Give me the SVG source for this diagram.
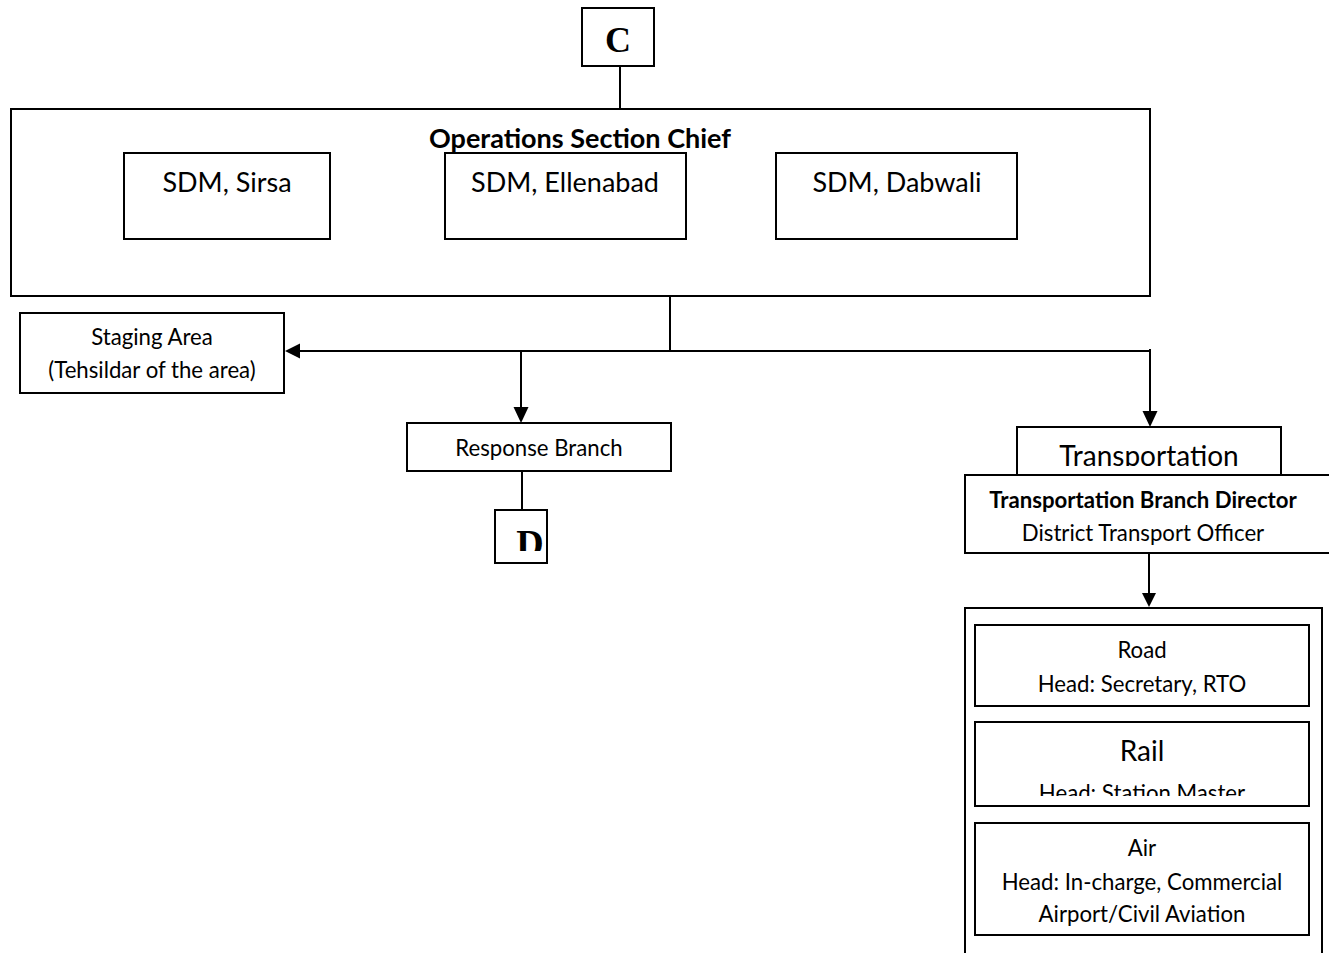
<svg xmlns="http://www.w3.org/2000/svg" width="1329" height="953" viewBox="0 0 1329 953">
  <style>
    .box { fill: #ffffff; stroke: #000000; stroke-width: 2; }
    .line { fill: none; stroke: #000000; stroke-width: 2; }
    .t { font-family: Lato, "Open Sans", "Liberation Sans", sans-serif; fill: #000000; text-anchor: middle; }
    .s19 { font-size: 22.2px; }
    .s24 { font-size: 27px; }
    .s25 { font-size: 28px; }
    .b { font-weight: bold; }
    .serif { font-family: "Liberation Serif", "DejaVu Serif", serif; font-weight: bold; fill: #000; text-anchor: middle; }
  </style>
  <defs>
    <clipPath id="clipD"><rect x="496" y="511" width="50" height="40"/></clipPath>
    <clipPath id="clipTrans"><rect x="1018" y="428" width="262" height="38"/></clipPath>
    <clipPath id="clipRail"><rect x="976" y="723" width="332" height="73"/></clipPath>
  </defs>

  <!-- connectors -->
  <g id="connectors">
    <line class="line" x1="620" y1="66" x2="620" y2="109"/>
    <line class="line" x1="670" y1="296" x2="670" y2="351"/>
    <line class="line" x1="1150" y1="351" x2="300" y2="351"/>
    <path d="M285,351 L300,343.5 L300,358.5 Z" fill="#000"/>
    <line class="line" x1="521" y1="351" x2="521" y2="408"/>
    <path d="M521,423 L513.5,407 L528.5,407 Z" fill="#000"/>
    <line class="line" x1="1150" y1="349" x2="1150" y2="412"/>
    <path d="M1150,427 L1142.5,411 L1157.5,411 Z" fill="#000"/>
    <line class="line" x1="522" y1="471" x2="522" y2="510"/>
    <line class="line" x1="1149" y1="553" x2="1149" y2="595"/>
    <path d="M1149,607 L1142,593 L1156,593 Z" fill="#000"/>
  </g>

  <!-- C connector tag -->
  <g id="node-c">
    <rect class="box" x="582" y="8" width="72" height="58"/>
    <text class="serif" x="618" y="52" font-size="36">C</text>
  </g>

  <!-- Operations Section Chief -->
  <g id="node-ops">
    <rect class="box" x="11" y="109" width="1139" height="187"/>
    <text class="t s24 b" x="580" y="148">Operations Section Chief</text>
  </g>
  <g id="node-sdm-sirsa">
    <rect class="box" x="124" y="153" width="206" height="86"/>
    <text class="t s24" x="227" y="192">SDM, Sirsa</text>
  </g>
  <g id="node-sdm-ellenabad">
    <rect class="box" x="445" y="153" width="241" height="86"/>
    <text class="t s24" x="565" y="192">SDM, Ellenabad</text>
  </g>
  <g id="node-sdm-dabwali">
    <rect class="box" x="776" y="153" width="241" height="86"/>
    <text class="t s24" x="897" y="192">SDM, Dabwali</text>
  </g>

  <!-- Staging Area -->
  <g id="node-staging">
    <rect class="box" x="20" y="313" width="264" height="80"/>
    <text class="t s19" x="152" y="345">Staging Area</text>
    <text class="t s19" x="152" y="378">(Tehsildar of the area)</text>
  </g>

  <!-- Response Branch -->
  <g id="node-response">
    <rect class="box" x="407" y="423" width="264" height="48"/>
    <text class="t s19" x="539" y="456">Response Branch</text>
  </g>
  <g id="node-d">
    <rect class="box" x="495" y="510" width="52" height="53"/>
    <text class="serif" x="530" y="556" font-size="38" clip-path="url(#clipD)">D</text>
  </g>

  <!-- Transportation -->
  <g id="node-transportation">
    <rect class="box" x="1017" y="427" width="264" height="48"/>
    <text class="t s25" x="1149" y="466" clip-path="url(#clipTrans)">Transportation</text>
  </g>
  <g id="node-director">
    <rect class="box" x="965" y="475" width="366" height="78"/>
    <text class="t s19 b" x="1143" y="508">Transportation Branch Director</text>
    <text class="t s19" x="1143" y="541">District Transport Officer</text>
  </g>

  <!-- Transport modes -->
  <g id="node-modes">
    <rect class="box" x="965" y="608" width="357" height="360"/>
  </g>
  <g id="node-road">
    <rect class="box" x="975" y="625" width="334" height="81"/>
    <text class="t s19" x="1142" y="658">Road</text>
    <text class="t s19" x="1142" y="692">Head: Secretary, RTO</text>
  </g>
  <g id="node-rail">
    <rect class="box" x="975" y="722" width="334" height="84"/>
    <text class="t s25" x="1142" y="761">Rail</text>
    <text class="t s19" x="1142" y="801" clip-path="url(#clipRail)">Head: Station Master</text>
  </g>
  <g id="node-air">
    <rect class="box" x="975" y="823" width="334" height="112"/>
    <text class="t s19" x="1142" y="856">Air</text>
    <text class="t s19" x="1142" y="890">Head: In-charge, Commercial</text>
    <text class="t s19" x="1142" y="922">Airport/Civil Aviation</text>
  </g>
</svg>
